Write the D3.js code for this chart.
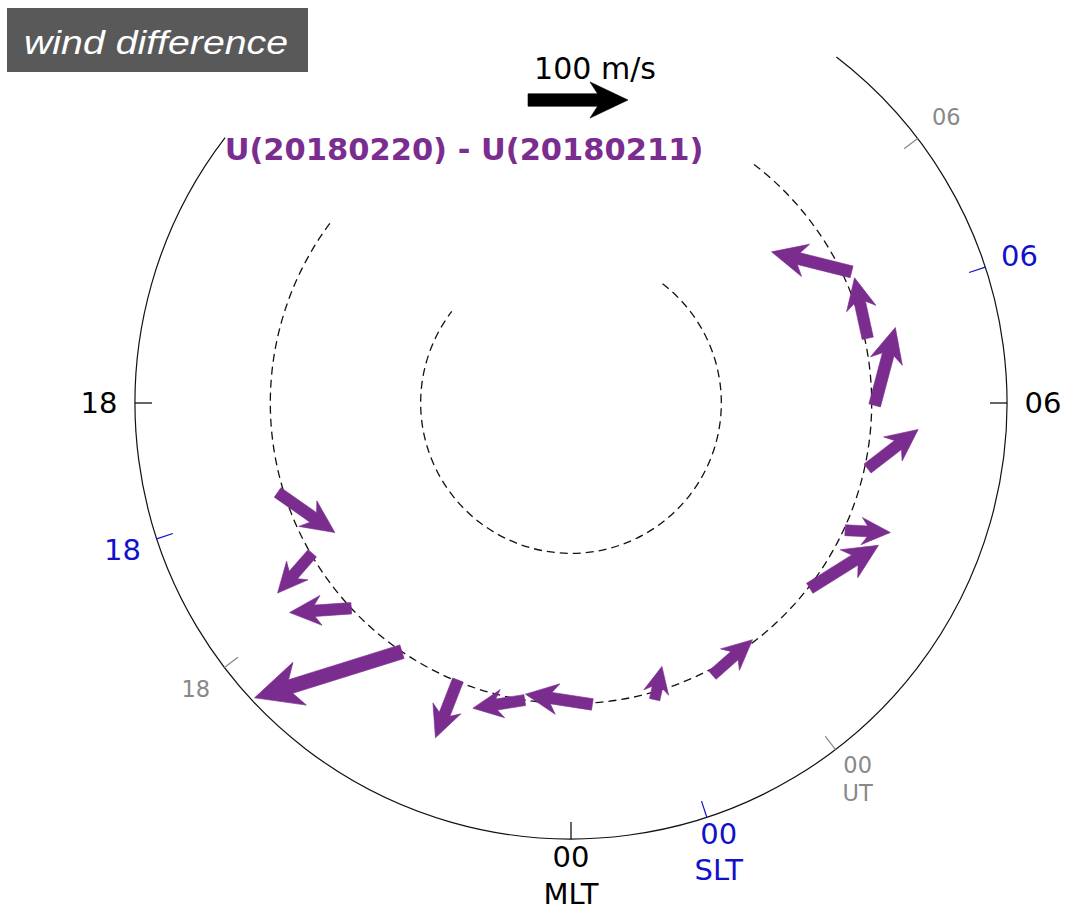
<!DOCTYPE html>
<html>
<head>
<meta charset="utf-8">
<script src="https://cdn.jsdelivr.net/npm/d3@7"></script>
<style>
  html, body { margin: 0; padding: 0; background: #fff; }
  svg { display: block; }
</style>
</head>
<body>
<svg id="chart" width="1067" height="911"></svg>
<script>
// ---------------- DATA ----------------
// arrow positions (tail): magnetic local time (h) and magnetic latitude (deg)
const arrowMLT = [7.67, 6.82, 5.97, 5.17, 4.34, 3.48, 1.83, 1.05, 0.27, 23.41, 22.52, 21.72, 20.87, 20.01, 19.13];
const arrowLat = [69.4, 69.8, 69.8, 69.8, 69.9, 69.9, 69.6, 69.5, 69.9, 70.0, 70.1, 70.0, 70.0, 70.1, 69.6];
// wind difference components (m/s): eastward and northward
const windEast  = [52, 62, 78, 49, 17, 76, 52, 16, -66, -50, 1, -96, -39, 17, 55];
const windNorth = [64, 0, -20, -41, -42, -28, 13, 30, 15, -16, -62, -121, -48, -50, 43];

const refSpeed = 100;            // reference arrow, m/s
const refLabel = "100 m/s";
const titleText = "U(20180220) - U(20180211)";
const panelLabel = "wind difference";

const dashedLats = [80, 70];     // dashed latitude circles
const outerLat = 61;             // outer boundary
const mltRange = [15.5, 9.5];    // arcs drawn from 15.5 MLT through midnight to 9.5 MLT

const hourTicks = [0, 6, 18];
const hourLabels = ["00", "06", "18"];
const sltOffset = 1.21;          // MLT of SLT 00
const utOffset = 2.49;           // MLT of UT 00

// ---------------- LAYOUT ----------------
const W = 1067, H = 911, cx = 571, cy = 403;
const purple = "#7b2d8f";
const svg = d3.select("#chart");

const rScale = d3.scaleLinear().domain([90, outerLat]).range([0, 436]);
const angle = d3.scaleLinear().domain([0, 24]).range([Math.PI, -Math.PI]); // clockwise from top
const speed = d3.scaleLinear().domain([0, 100]).range([0, 100]);            // px per m/s

function polar(mlt, rad) {
  const a = angle(mlt);
  return [cx + rad * Math.sin(a), cy - rad * Math.cos(a)];
}

function arcPath(rad) {
  const a0 = angle(mltRange[1]);
  const a1 = angle(mltRange[0]) + 2 * Math.PI;
  const p = d3.path();
  p.arc(cx, cy, rad, a0 - Math.PI / 2, a1 - Math.PI / 2, false);
  return p.toString();
}

// outer boundary
svg.append("path").attr("d", arcPath(rScale(outerLat)))
  .attr("fill", "none").attr("stroke", "#111").attr("stroke-width", 1.2);

// dashed circles
dashedLats.forEach(lat => {
  svg.append("path").attr("d", arcPath(rScale(lat)))
    .attr("fill", "none").attr("stroke", "#111").attr("stroke-width", 1.3)
    .attr("stroke-dasharray", "8,5");
});

// ticks & labels
const tickSets = [
  { offset: 0, color: "#000", size: 29, name: "MLT", r00: 454, nameDy: 37, dx00: 0, dy00: 0 },
  { offset: sltOffset, color: "#1111cc", size: 29, name: "SLT", r00: 455, nameDy: 36, dx00: 6, dy00: -2 },
  { offset: utOffset, color: "#888", size: 22.5, name: "UT", r00: 461, nameDy: 28, dx00: 7, dy00: -5 }
];
const R = rScale(outerLat);
tickSets.forEach(set => {
  hourTicks.forEach((h, i) => {
    const m = h + set.offset;
    const p0 = polar(m, R), p1 = polar(m, R - 17);
    svg.append("line")
      .attr("x1", p0[0]).attr("y1", p0[1]).attr("x2", p1[0]).attr("y2", p1[1])
      .attr("stroke", set.color).attr("stroke-width", 1.2);
    const isMid = h === 0;
    const lp = polar(m, isMid ? set.r00 : 472);
    if (isMid) { lp[0] += set.dx00; lp[1] += set.dy00; }
    svg.append("text")
      .attr("x", lp[0]).attr("y", lp[1]).attr("dy", "0.36em")
      .attr("text-anchor", "middle")
      .attr("font-family", "DejaVu Sans").attr("font-size", set.size)
      .attr("fill", set.color).text(hourLabels[i]);
    if (isMid) {
      svg.append("text")
        .attr("x", lp[0]).attr("y", lp[1] + set.nameDy).attr("dy", "0.36em")
        .attr("text-anchor", "middle")
        .attr("font-family", "DejaVu Sans").attr("font-size", set.size)
        .attr("fill", set.color).text(set.name);
    }
  });
});

// arrow shape
function arrowShape(L) {
  const hl = Math.min(0.8 * L, 21 + 0.17 * L);
  const hw = hl * 0.95;
  const sw = 9.5 + 0.03 * L;
  const hn = L - hl * 0.8;
  return [[0, -sw / 2], [hn, -sw / 2], [L - hl, -hw / 2], [L, 0], [L - hl, hw / 2], [hn, sw / 2], [0, sw / 2]];
}
const line = d3.line();

function drawArrow(g, x, y, dx, dy, color) {
  const L = Math.hypot(dx, dy);
  const deg = Math.atan2(dy, dx) * 180 / Math.PI;
  g.append("path")
    .attr("d", line(arrowShape(L)) + "Z")
    .attr("transform", `translate(${x},${y}) rotate(${deg})`)
    .attr("fill", color).attr("stroke", color).attr("stroke-width", 0.6)
    .attr("stroke-linejoin", "miter");
}

const arrows = svg.append("g");
arrowMLT.forEach((m, i) => {
  const [x, y] = polar(m, rScale(arrowLat[i]));
  const a = angle(m);
  const ve = speed(windEast[i]), vn = speed(windNorth[i]);
  const dx = ve * (-Math.cos(a)) + vn * (-Math.sin(a));
  const dy = ve * (-Math.sin(a)) + vn * (Math.cos(a));
  drawArrow(arrows, x, y, dx, dy, purple);
});

// reference arrow
drawArrow(svg, 528, 100, speed(refSpeed), 0, "#000");
svg.append("text").attr("x", 595).attr("y", 79).attr("text-anchor", "middle")
  .attr("font-family", "DejaVu Sans").attr("font-size", 30).attr("fill", "#000")
  .text(refLabel);

// title
svg.append("text").attr("x", 464).attr("y", 160).attr("text-anchor", "middle")
  .attr("font-family", "DejaVu Sans").attr("font-weight", "bold").attr("font-size", 30.5)
  .attr("fill", purple).text(titleText);

// panel label box
svg.append("rect").attr("x", 7).attr("y", 8).attr("width", 301).attr("height", 64).attr("fill", "#595959");
svg.append("text").attr("x", 24).attr("y", 54)
  .attr("font-family", "Liberation Sans, Arial, sans-serif").attr("font-style", "italic")
  .attr("font-size", 34).attr("fill", "#fff")
  .attr("textLength", 264).attr("lengthAdjust", "spacingAndGlyphs")
  .text(panelLabel);
</script>
</body>
</html>
